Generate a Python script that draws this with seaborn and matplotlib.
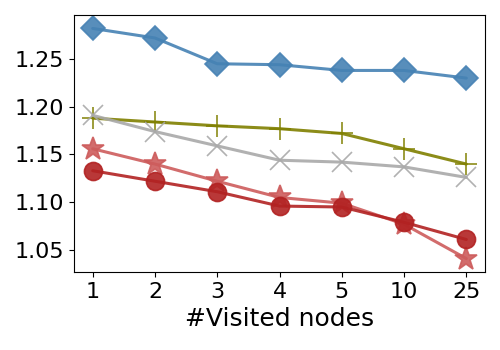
import pandas as pd
import seaborn as sns
import matplotlib.pyplot as plt

# values
visited = ['1', '2', '3', '4', '5', '10', '25']
blue_diamond = [1.282, 1.272, 1.245, 1.244, 1.238, 1.238, 1.230]
olive_plus = [1.188, 1.184, 1.180, 1.177, 1.172, 1.156, 1.140]
gray_x = [1.191, 1.174, 1.159, 1.144, 1.142, 1.137, 1.126]
red_star = [1.156, 1.140, 1.122, 1.105, 1.099, 1.077, 1.041]
red_circle = [1.133, 1.122, 1.111, 1.096, 1.095, 1.079, 1.061]

series = [
    ('diamond', blue_diamond, 'steelblue', 'D', 12),
    ('plus', olive_plus, 'olive', '+', 16),
    ('x', gray_x, 'darkgray', 'x', 14),
    ('star', red_star, 'indianred', '*', 17),
    ('circle', red_circle, 'firebrick', 'o', 13),
]

sns.set_style('ticks')
plt.rcParams['font.family'] = ['DejaVu Sans']
plt.rcParams['text.color'] = 'black'
plt.rcParams['axes.labelcolor'] = 'black'
plt.rcParams['xtick.color'] = 'black'
plt.rcParams['ytick.color'] = 'black'

fig, ax = plt.subplots(figsize=(5, 3.5), dpi=100)
for name, vals, color, marker, ms in series:
    df = pd.DataFrame({'visited': visited, 'value': vals})
    sns.lineplot(data=df, x='visited', y='value', sort=False, color=color,
                 marker=marker, markersize=ms, linewidth=2.2, alpha=0.9,
                 markeredgecolor=color, markeredgewidth=1.2, ax=ax)

ax.set_xlim(-0.3, 6.3)
ax.set_ylim(1.027, 1.296)
ax.set_yticks([1.05, 1.10, 1.15, 1.20, 1.25])
ax.set_yticklabels(['1.05', '1.10', '1.15', '1.20', '1.25'])
ax.tick_params(labelsize=16, colors='black')
ax.set_xlabel('#Visited nodes', fontsize=18, color='black')
ax.set_ylabel('')
for s in ax.spines.values():
    s.set_visible(True)
    s.set_color('black')

fig.subplots_adjust(left=0.148, right=0.97, top=0.957, bottom=0.223)
fig.savefig('out.png', dpi=100)
